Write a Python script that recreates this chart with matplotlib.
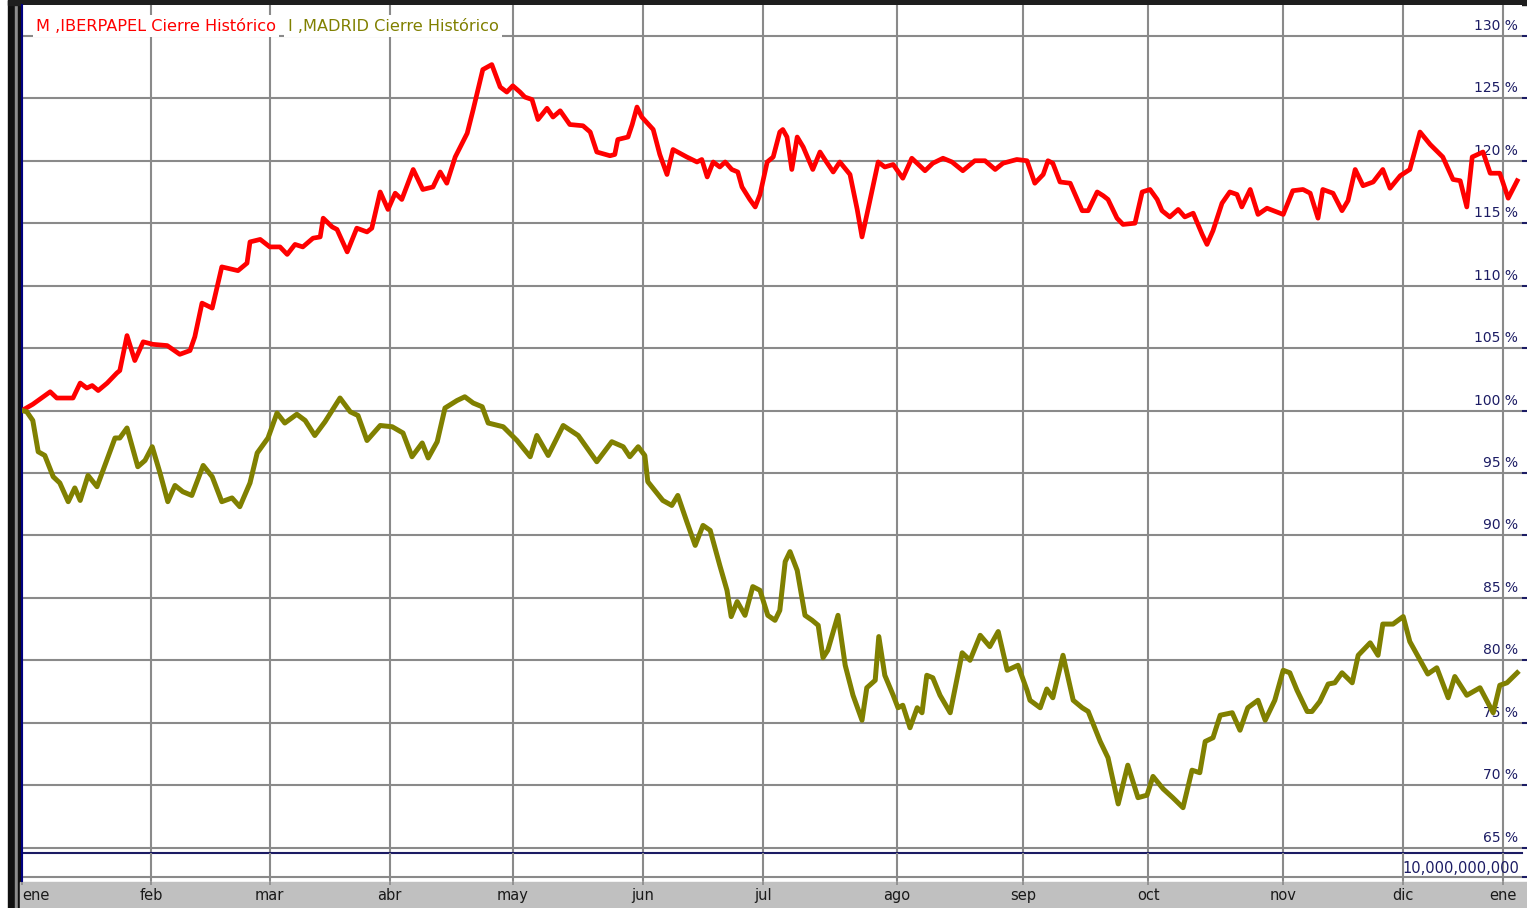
import matplotlib
matplotlib.use("Agg")
import matplotlib.pyplot as plt
from matplotlib.patches import Rectangle

# sessions (trading days from start of year) and closing index, 100 = first close
iber_x = [0, 1.8, 4.7, 5.8, 8.5, 9.7, 10.8, 11.7, 12.7, 14.2, 15.8, 16.3, 17.5, 18.8, 20.2, 21.8,
          24.2, 26.3, 28.0, 28.8, 30.0, 31.7, 33.3, 36.0, 37.5, 38.0, 39.7, 41.3, 43.0, 44.2, 45.5,
          46.8, 48.5, 49.7, 50.2, 51.7, 52.5, 54.2, 55.8, 57.5, 58.3, 59.7, 61.0, 62.2, 63.3, 65.2,
          66.8, 68.5, 69.7, 70.8, 72.2, 74.2, 75.2, 76.8, 78.3, 79.7, 80.8, 81.8, 83.0, 83.8, 85.0,
          86.0, 87.5, 88.5, 89.7, 91.3, 93.5, 94.7, 95.8, 98.0, 98.8, 99.3, 101.0, 101.7, 102.5,
          103.3, 105.2, 106.3, 107.5, 108.5, 110.8, 112.5, 113.3, 114.2, 115.2, 116.3, 117.2, 118.3,
          119.3, 120.0, 121.3, 122.2, 123.0, 124.2, 125.2, 126.3, 126.8, 127.5, 128.3, 129.2, 130.2,
          131.8, 133.0, 133.8, 135.2, 136.3, 138.0, 139.2, 140.0, 141.0, 142.7, 143.8, 145.2, 146.8,
          148.3, 150.5, 151.8, 153.5, 155.0, 156.8, 158.8, 160.5, 162.2, 163.5, 165.8, 167.5, 168.8,
          170.2, 171.0, 171.8, 173.0, 174.7, 176.7, 177.7, 179.2, 180.2, 181.0, 182.5, 183.5, 185.5,
          186.7, 188.0, 189.2, 190.0, 191.3, 192.7, 193.8, 195.2, 196.7, 197.5, 198.5, 200.0, 201.3,
          202.5, 203.3, 204.7, 206.0, 207.5, 209.7, 210.2, 211.8, 213.5, 214.7, 216.0, 216.8, 218.5,
          220.0, 221.0, 222.2, 223.5, 225.2, 226.8, 228.0, 229.7, 231.3, 233.0, 234.7, 236.8, 238.5,
          239.7, 240.8, 241.7, 243.5, 244.7, 246.3, 247.7, 249.2]
iber_y = [100.0, 100.5, 101.5, 101.0, 101.0, 102.2, 101.8, 102.0, 101.6, 102.2, 103.0, 103.2, 106.0,
          104.0, 105.5, 105.3, 105.2, 104.5, 104.8, 105.9, 108.6, 108.2, 111.5, 111.2, 111.8, 113.5,
          113.7, 113.1, 113.1, 112.5, 113.3, 113.1, 113.8, 113.9, 115.4, 114.7, 114.5, 112.7, 114.6,
          114.3, 114.6, 117.5, 116.1, 117.4, 116.9, 119.3, 117.7, 117.9, 119.1, 118.2, 120.3, 122.2,
          124.1, 127.3, 127.7, 125.9, 125.5, 126.0, 125.5, 125.1, 124.9, 123.3, 124.2, 123.5, 124.0,
          122.9, 122.8, 122.3, 120.7, 120.4, 120.5, 121.7, 121.9, 122.9, 124.3, 123.5, 122.5, 120.5,
          118.9, 120.9, 120.3, 119.9, 120.1, 118.7, 119.9, 119.5, 119.9, 119.3, 119.1, 117.9, 116.9,
          116.3, 117.3, 119.9, 120.3, 122.3, 122.5, 121.9, 119.3, 121.9, 121.1, 119.3, 120.7, 120.1,
          119.1, 119.9, 118.9, 116.1, 113.9, 116.1, 119.9, 119.5, 119.7, 118.6, 120.2, 119.2, 119.8,
          120.2, 119.9, 119.2, 120.0, 120.0, 119.3, 119.8, 120.1, 120.0, 118.2, 118.9, 120.0, 119.8,
          118.3, 118.2, 116.0, 116.0, 117.5, 117.2, 116.9, 115.4, 114.9, 115.0, 117.5, 117.7, 116.9,
          116.0, 115.5, 116.1, 115.5, 115.8, 114.1, 113.3, 114.4, 116.6, 117.5, 117.3, 116.3, 117.7,
          115.7, 116.2, 115.8, 115.7, 117.6, 117.7, 117.4, 115.4, 117.7, 117.4, 116.0, 116.8, 119.3,
          118.0, 118.3, 119.3, 117.8, 118.8, 119.3, 122.3, 121.3, 120.3, 118.5, 118.4, 116.3, 120.3,
          120.7, 119.0, 119.0, 117.0, 118.4]

madrid_x = [0, 0.8, 1.8, 2.7, 3.8, 5.2, 6.3, 7.7, 8.8, 9.7, 11.0, 12.5, 13.8, 15.5, 16.3, 17.5, 19.3,
            20.5, 21.7, 23.0, 24.3, 25.5, 26.8, 28.3, 30.2, 31.7, 33.3, 35.0, 36.3, 38.0, 39.2, 41.0,
            42.5, 43.8, 45.8, 47.2, 48.8, 50.5, 53.0, 54.7, 56.0, 57.5, 59.7, 61.7, 63.5, 65.0, 66.7,
            67.7, 69.2, 70.5, 72.5, 73.8, 75.2, 76.7, 77.7, 80.2, 82.5, 84.7, 85.8, 87.7, 90.2, 92.7,
            95.8, 98.3, 100.2, 101.3, 102.7, 103.8, 104.3, 106.8, 108.3, 109.3, 110.8, 112.2, 113.5,
            114.7, 116.3, 117.5, 118.2, 119.2, 120.5, 121.8, 123.0, 124.3, 125.5, 126.3, 127.2, 128.0,
            129.2, 130.5, 131.7, 132.7, 133.5, 134.3, 136.0, 137.2, 138.5, 140.0, 140.8, 142.2, 142.8,
            143.8, 145.2, 146.0, 146.8, 148.0, 149.2, 150.0, 150.8, 151.8, 153.0, 154.7, 156.7, 158.0,
            159.7, 161.3, 162.7, 164.2, 166.0, 167.5, 168.0, 169.7, 170.8, 171.8, 173.5, 175.2, 176.7,
            177.7, 179.7, 181.0, 182.7, 184.3, 186.0, 187.5, 188.5, 190.2, 191.8, 193.5, 195.0, 196.3,
            197.2, 198.5, 199.7, 201.7, 203.0, 204.3, 206.0, 207.2, 208.8, 210.2, 211.3, 212.5, 214.2,
            215.0, 216.3, 217.7, 218.8, 220.0, 221.7, 222.7, 224.7, 226.0, 226.8, 228.5, 230.2, 231.3,
            233.5, 234.3, 235.8, 237.7, 238.8, 240.8, 243.0, 245.2, 246.3, 247.5, 249.2]
madrid_y = [100.0, 99.9, 99.2, 96.7, 96.4, 94.7, 94.2, 92.7, 93.8, 92.8, 94.8, 93.9, 95.6, 97.8, 97.8,
            98.6, 95.5, 96.0, 97.1, 95.0, 92.7, 94.0, 93.5, 93.2, 95.6, 94.7, 92.7, 93.0, 92.3, 94.2,
            96.6, 97.8, 99.8, 99.0, 99.7, 99.2, 98.0, 99.1, 101.0, 99.9, 99.6, 97.6, 98.8, 98.7, 98.2,
            96.3, 97.4, 96.2, 97.5, 100.2, 100.8, 101.1, 100.6, 100.3, 99.0, 98.7, 97.6, 96.3, 98.0,
            96.4, 98.8, 98.0, 95.9, 97.5, 97.1, 96.3, 97.1, 96.4, 94.3, 92.8, 92.4, 93.2, 91.1, 89.2,
            90.8, 90.4, 87.6, 85.6, 83.5, 84.7, 83.6, 85.9, 85.6, 83.6, 83.2, 84.0, 87.9, 88.7, 87.2,
            83.6, 83.2, 82.8, 80.2, 80.8, 83.6, 79.6, 77.2, 75.2, 77.8, 78.4, 81.9, 78.8, 77.2, 76.2,
            76.4, 74.6, 76.2, 75.8, 78.8, 78.6, 77.2, 75.8, 80.6, 80.0, 82.0, 81.1, 82.3, 79.2, 79.6,
            77.6, 76.8, 76.2, 77.7, 77.0, 80.4, 76.8, 76.2, 75.9, 73.5, 72.2, 68.5, 71.6, 69.0, 69.2,
            70.7, 69.7, 69.0, 68.2, 71.2, 71.0, 73.5, 73.8, 75.6, 75.8, 74.4, 76.2, 76.8, 75.2, 76.8,
            79.2, 79.0, 77.6, 75.9, 75.9, 76.7, 78.1, 78.2, 79.0, 78.2, 80.4, 81.4, 80.4, 82.9, 82.9,
            83.5, 81.5, 79.6, 78.9, 79.4, 77.0, 78.7, 77.2, 77.8, 75.8, 78.0, 78.2, 79.0]

months = ["ene", "feb", "mar", "abr", "may", "jun", "jul", "ago", "sep", "oct", "nov", "dic", "ene"]
month_pos = [0, 21.5, 41.3, 61.3, 81.8, 103.5, 123.5, 145.8, 166.8, 187.7, 210.2, 230.2, 246.8]
pct_ticks = list(range(65, 131, 5))

W, H = 1527, 908
NAVY = "#1c1c64"
GRID = "#8a8a8a"


def box(x0, y0, x1, y1):
    # pixel box (top-left origin) -> figure fraction
    return [x0 / W, 1 - y1 / H, (x1 - x0) / W, (y1 - y0) / H]


fig = plt.figure(figsize=(W / 100, H / 100), dpi=100)
fig.patch.set_facecolor("white")

# window frame on the left and top, grey date strip at the bottom
frame = [((8, 0), 7, H, "#111111"), ((15, 0), 3, H, "#8c8c8c"), ((18, 0), 3, H, "#111111"),
         ((8, H - 5), W, 5, "#1e1e1e"), ((20, 0), W, 26, "#c0c0c0")]
for (x0, y0), w, h, c in frame:
    fig.patches.append(Rectangle((x0 / W, y0 / H), w / W, h / H, transform=fig.transFigure,
                                 color=c, zorder=-5))

ax = fig.add_axes(box(22, 5, 1522, 853))
ax.set_xlim(0, 250)
ax.set_ylim(64.57, 132.47)
ax.set_xticks(month_pos)
ax.set_yticks(pct_ticks)
ax.grid(True, color=GRID, lw=1.5)
ax.set_axisbelow(True)
for s in ["top", "right"]:
    ax.spines[s].set_visible(False)
ax.spines["left"].set_color("#000080")
ax.spines["left"].set_linewidth(1.5)
ax.spines["bottom"].set_color(NAVY)
ax.spines["bottom"].set_linewidth(1.5)
ax.tick_params(axis="x", length=0, labelbottom=False)
ax.tick_params(axis="y", left=False, labelleft=False, right=True, direction="out",
               length=3.5, width=1.5, color=NAVY)

for v in pct_ticks:
    ax.annotate(f"{v} %", xy=(1, v), xycoords=("axes fraction", "data"),
                xytext=(-4, 6), textcoords="offset pixels", ha="right", va="baseline",
                fontsize=10, color=NAVY, zorder=1)

ax.plot(iber_x, iber_y, color="#ff0000", lw=3.4, zorder=3)
ax.plot(madrid_x, madrid_y, color="#808000", lw=3.6, zorder=3)

ax.text(0.0093, 0.984, "M ,IBERPAPEL Cierre Histórico", transform=ax.transAxes,
        ha="left", va="top", fontsize=11.6, color="#ff0000",
        bbox=dict(boxstyle="square,pad=0.2", fc="white", ec="none"), zorder=4)
ax.text(0.177, 0.984, "I ,MADRID Cierre Histórico", transform=ax.transAxes,
        ha="left", va="top", fontsize=11.6, color="#808000",
        bbox=dict(boxstyle="square,pad=0.2", fc="white", ec="none"), zorder=4)

# volume panel
axv = fig.add_axes(box(22, 853, 1522, 881))
axv.set_xlim(0, 250)
axv.set_ylim(9.5e9, 1.3e10)
axv.set_yticks([1e10])
axv.set_xticks(month_pos)
axv.set_xticklabels(months)
axv.grid(True, color=GRID, lw=1.5)
for s in ["top", "right", "bottom"]:
    axv.spines[s].set_visible(False)
axv.spines["left"].set_color("#000080")
axv.spines["left"].set_linewidth(1.5)
axv.patch.set_alpha(0)
axv.tick_params(axis="y", left=False, labelleft=False, right=True, direction="out",
                length=3.5, width=1.5, color=NAVY)
axv.tick_params(axis="x", length=3, width=1.2, color=GRID, pad=2, labelsize=10.5,
                labelcolor="#1a1a1a")
axv.get_xticklabels()[0].set_ha("left")
axv.annotate("10,000,000,000", xy=(1, 1e10), xycoords=("axes fraction", "data"),
             xytext=(-3, 4), textcoords="offset pixels", ha="right", va="baseline",
             fontsize=10.5, color=NAVY)

fig.savefig("out.png", dpi=100)
